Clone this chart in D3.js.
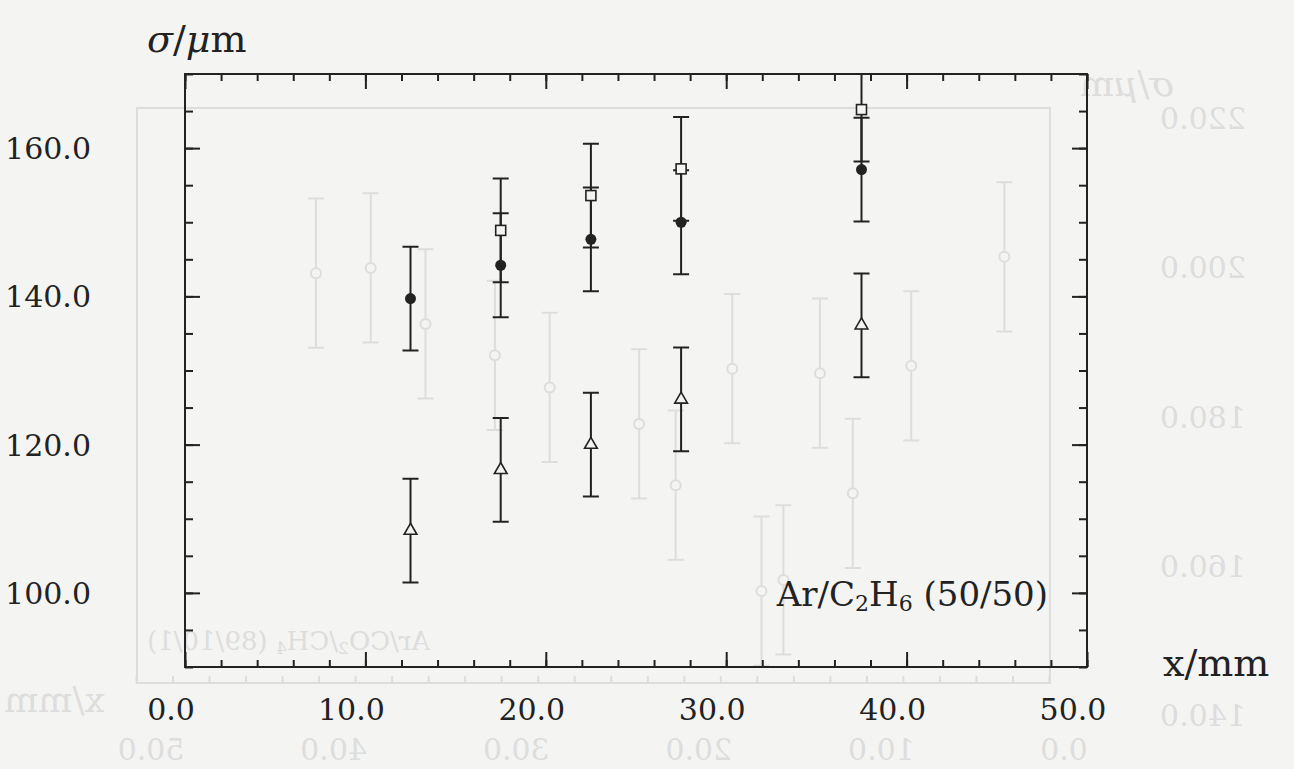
<!DOCTYPE html>
<html>
<head>
<meta charset="utf-8">
<script src="https://cdn.jsdelivr.net/npm/d3@7"></script>
<style>
  body { margin: 0; background: #f4f4f2; }
  svg { display: block; }
  text { font-family: "DejaVu Serif", "Liberation Serif", serif; }
</style>
</head>
<body>
<svg id="chart"></svg>
<script>
// positions along the chamber (mm)
var xCircle = [12.5, 17.5, 22.5, 27.5, 37.5];
var yCircle = [139.7, 144.2, 147.7, 150.0, 157.1];
var xSquare = [17.5, 22.5, 27.5, 37.5];
var ySquare = [148.9, 153.6, 157.2, 165.2];
var xTriangle = [12.5, 17.5, 22.5, 27.5, 37.5];
var yTriangle = [108.4, 116.6, 120.0, 126.1, 136.1];
var errSigma = 7.0;

var xTickLabels = [0, 10, 20, 30, 40, 50];
var yTickLabels = [100, 120, 140, 160];

// faint print-through from the other side of the page (mirrored)
var ghostX = [2.5, 7.6, 10.8, 12.6, 14.6, 15.8, 17.4, 20.5, 22.5, 27.4, 30.4, 34.2, 37.2, 40.2];
var ghostY = [201.4, 186.8, 169.7, 185.8, 158.1, 156.6, 186.4, 170.8, 179.0, 183.9, 188.2, 192.4, 199.9, 199.2];
var ghostErr = 10.0;
var ghostXTicks = [0, 10, 20, 30, 40, 50];
var ghostYTicks = [140, 160, 180, 200, 220];

var W = 1294, H = 769;
var ink = "#222";
var paper = "#f4f4f2";
var svg = d3.select("#chart").attr("width", W).attr("height", H);
svg.append("rect").attr("width", W).attr("height", H).attr("fill", paper);

// ---------- ghost layer (drawn normally, then mirrored) ----------
var ghostInk = "#dddddd";
var ghost = svg.append("g").attr("transform", "translate(" + W + ",0) scale(-1,1)");
var gx = d3.scaleLinear().domain([0, 50]).range([244, 1157]);
var gy = d3.scaleLinear().domain([220, 140]).range([118, 715]);
var gFrame = { left: 244, right: 1157, top: 108, bottom: 683 };

ghost.append("rect")
    .attr("x", gFrame.left).attr("y", gFrame.top)
    .attr("width", gFrame.right - gFrame.left).attr("height", gFrame.bottom - gFrame.top)
    .attr("fill", "none").attr("stroke", ghostInk).attr("stroke-width", 2);

ghost.append("g")
    .attr("transform", "translate(0," + gFrame.bottom + ")")
    .call(d3.axisBottom(gx).tickValues(d3.range(0, 51, 2)).tickSize(-7).tickFormat(""))
    .call(function(g) { g.select(".domain").remove(); g.selectAll("line").attr("stroke", ghostInk).attr("stroke-width", 2); });

ghost.selectAll(".gbar")
    .data(ghostX)
    .enter().append("path")
    .attr("class", "gbar")
    .attr("d", function(d, i) {
        var x0 = gx(d), y1 = gy(ghostY[i] + ghostErr), y2 = gy(ghostY[i] - ghostErr);
        return "M" + x0 + "," + y1 + "V" + y2 +
            "M" + (x0 - 8) + "," + y1 + "H" + (x0 + 8) +
            "M" + (x0 - 8) + "," + y2 + "H" + (x0 + 8);
    })
    .attr("fill", "none").attr("stroke", ghostInk).attr("stroke-width", 2);

ghost.selectAll(".gdot")
    .data(ghostX)
    .enter().append("circle")
    .attr("class", "gdot")
    .attr("cx", function(d) { return gx(d); })
    .attr("cy", function(d, i) { return gy(ghostY[i]); })
    .attr("r", 5)
    .attr("fill", paper).attr("stroke", ghostInk).attr("stroke-width", 2);

ghost.selectAll(".gylab")
    .data(ghostYTicks)
    .enter().append("text")
    .attr("x", 134).attr("y", function(d) { return gy(d) + 11; })
    .attr("text-anchor", "end")
    .attr("font-size", 30).attr("fill", ghostInk)
    .text(function(d) { return d.toFixed(1); });

ghost.selectAll(".gxlab")
    .data(ghostXTicks)
    .enter().append("text")
    .attr("x", function(d) { return gx(d) - 14; }).attr("y", 760)
    .attr("text-anchor", "middle")
    .attr("font-size", 30).attr("fill", ghostInk)
    .text(function(d) { return d.toFixed(1); });

ghost.append("text")
    .attr("x", 1290).attr("y", 712)
    .attr("text-anchor", "end")
    .attr("font-size", 36).attr("fill", ghostInk)
    .text("x/mm");

ghost.append("text")
    .attr("x", 864).attr("y", 650)
    .attr("font-size", 26).attr("fill", ghostInk)
    .html("Ar/CO<tspan baseline-shift='-4' font-size='17'>2</tspan>/CH<tspan baseline-shift='-4' font-size='17'>4</tspan> (89/10/1)");

ghost.append("text")
    .attr("x", 120).attr("y", 96)
    .attr("font-size", 36).attr("fill", ghostInk)
    .html("<tspan font-style='italic'>σ</tspan>/<tspan font-style='italic'>μ</tspan>m");

// ---------- main chart ----------
var frame = { left: 185, right: 1087, top: 74, bottom: 667 };
var x = d3.scaleLinear().domain([0, 50]).range([frame.left, frame.right]);
var y = d3.scaleLinear().domain([90, 170]).range([frame.bottom, frame.top]);

var minorX = d3.range(0, 51, 2);
var majorX = d3.range(0, 51, 10);
var minorY = d3.range(90, 171, 5);
var majorY = d3.range(100, 161, 20);

function styleTicks(g) {
    g.select(".domain").remove();
    g.selectAll("line").attr("stroke", ink).attr("stroke-width", 2);
}

// ticks pointing inward on all four sides
svg.append("g").attr("transform", "translate(0," + frame.bottom + ")")
    .call(d3.axisBottom(x).tickValues(minorX).tickSize(-7).tickFormat("")).call(styleTicks);
svg.append("g").attr("transform", "translate(0," + frame.bottom + ")")
    .call(d3.axisBottom(x).tickValues(majorX).tickSize(-15).tickFormat("")).call(styleTicks);
svg.append("g").attr("transform", "translate(0," + frame.top + ")")
    .call(d3.axisTop(x).tickValues(minorX).tickSize(-7).tickFormat("")).call(styleTicks);
svg.append("g").attr("transform", "translate(0," + frame.top + ")")
    .call(d3.axisTop(x).tickValues(majorX).tickSize(-15).tickFormat("")).call(styleTicks);
svg.append("g").attr("transform", "translate(" + frame.left + ",0)")
    .call(d3.axisLeft(y).tickValues(minorY).tickSize(-8).tickFormat("")).call(styleTicks);
svg.append("g").attr("transform", "translate(" + frame.left + ",0)")
    .call(d3.axisLeft(y).tickValues(majorY).tickSize(-15).tickFormat("")).call(styleTicks);
svg.append("g").attr("transform", "translate(" + frame.right + ",0)")
    .call(d3.axisRight(y).tickValues(minorY).tickSize(-8).tickFormat("")).call(styleTicks);
svg.append("g").attr("transform", "translate(" + frame.right + ",0)")
    .call(d3.axisRight(y).tickValues(majorY).tickSize(-15).tickFormat("")).call(styleTicks);

svg.append("rect")
    .attr("x", frame.left).attr("y", frame.top)
    .attr("width", frame.right - frame.left).attr("height", frame.bottom - frame.top)
    .attr("fill", "none").attr("stroke", ink).attr("stroke-width", 2);

// tick labels
svg.selectAll(".xlab")
    .data(xTickLabels)
    .enter().append("text")
    .attr("class", "xlab")
    .attr("x", function(d) { return x(d) - 14; })
    .attr("y", 720)
    .attr("text-anchor", "middle")
    .attr("font-size", 30).attr("fill", ink)
    .text(function(d) { return d.toFixed(1); });

svg.selectAll(".ylab")
    .data(yTickLabels)
    .enter().append("text")
    .attr("class", "ylab")
    .attr("x", 91)
    .attr("y", function(d) { return y(d) + 11; })
    .attr("text-anchor", "end")
    .attr("font-size", 30).attr("fill", ink)
    .text(function(d) { return d.toFixed(1); });

// axis titles
svg.append("text")
    .attr("x", 147).attr("y", 52)
    .attr("font-size", 38).attr("fill", ink)
    .html("<tspan font-style='italic'>σ</tspan>/<tspan font-style='italic'>μ</tspan>m");

svg.append("text")
    .attr("x", 1163).attr("y", 676)
    .attr("font-size", 38).attr("fill", ink)
    .text("x/mm");

svg.append("text")
    .attr("x", 1048).attr("y", 606)
    .attr("text-anchor", "end")
    .attr("font-size", 34).attr("fill", ink)
    .html("Ar/C<tspan baseline-shift='-5' font-size='22'>2</tspan>H<tspan baseline-shift='-5' font-size='22'>6</tspan> (50/50)");

// error bars, clipped at the frame
function errPath(xv, yv) {
    var hi = Math.min(yv + errSigma, 170), lo = Math.max(yv - errSigma, 90);
    var x0 = x(xv), cap = 8;
    var p = "M" + x0 + "," + y(hi) + "V" + y(lo);
    if (yv + errSigma <= 170) p += "M" + (x0 - cap) + "," + y(hi) + "H" + (x0 + cap);
    if (yv - errSigma >= 90) p += "M" + (x0 - cap) + "," + y(lo) + "H" + (x0 + cap);
    return p;
}

var bars = svg.append("g").attr("fill", "none").attr("stroke", ink).attr("stroke-width", 2);
bars.selectAll(".ebC").data(xCircle).enter().append("path")
    .attr("d", function(d, i) { return errPath(d, yCircle[i]); });
bars.selectAll(".ebS").data(xSquare).enter().append("path")
    .attr("d", function(d, i) { return errPath(d, ySquare[i]); });
bars.selectAll(".ebT").data(xTriangle).enter().append("path")
    .attr("d", function(d, i) { return errPath(d, yTriangle[i]); });

// markers
svg.selectAll(".circ").data(xCircle).enter().append("circle")
    .attr("cx", function(d) { return x(d); })
    .attr("cy", function(d, i) { return y(yCircle[i]); })
    .attr("r", 5.5)
    .attr("fill", ink);

svg.selectAll(".sq").data(xSquare).enter().append("rect")
    .attr("x", function(d) { return x(d) - 5; })
    .attr("y", function(d, i) { return y(ySquare[i]) - 5; })
    .attr("width", 10).attr("height", 10)
    .attr("fill", paper).attr("stroke", ink).attr("stroke-width", 1.6);

var tri = d3.symbol().type(d3.symbolTriangle).size(70);
svg.selectAll(".tri").data(xTriangle).enter().append("path")
    .attr("transform", function(d, i) { return "translate(" + x(d) + "," + y(yTriangle[i]) + ")"; })
    .attr("d", tri)
    .attr("fill", paper).attr("stroke", ink).attr("stroke-width", 1.6);
</script>
</body>
</html>
